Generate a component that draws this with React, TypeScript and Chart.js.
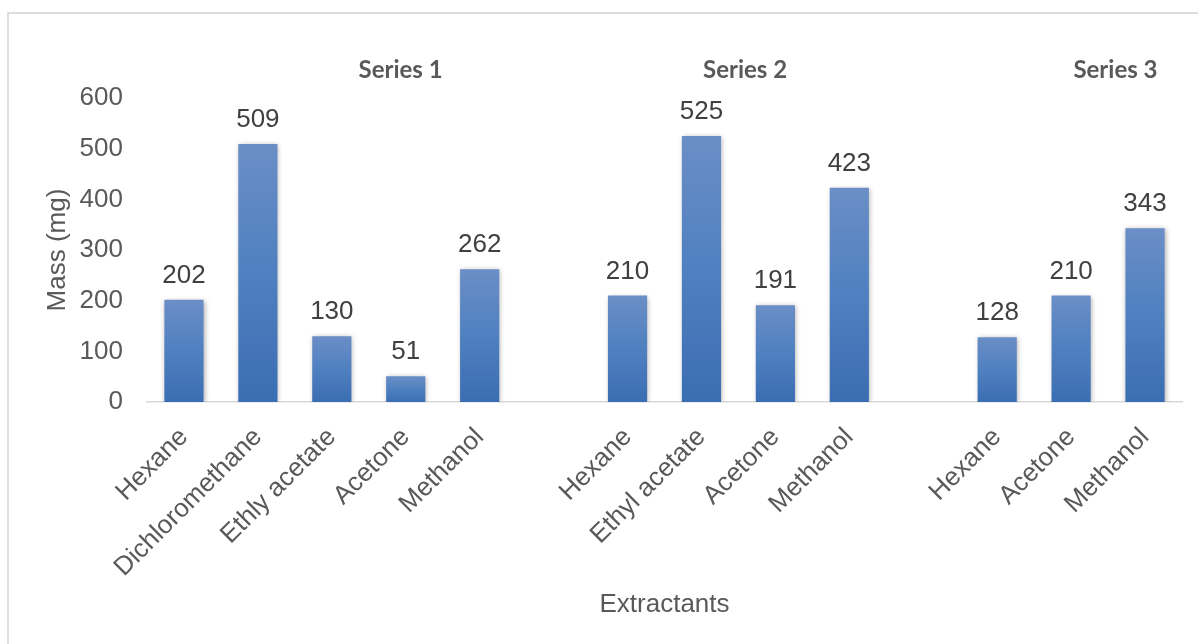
import React, { useEffect, useRef } from "react";
import { Chart, registerables } from "chart.js";

Chart.register(...registerables);

// Categories (empty strings are the gaps between the three series)
const categories: string[] = [
  "Hexane", "Dichloromethane", "Ethly acetate", "Acetone", "Methanol",
  "",
  "Hexane", "Ethyl acetate", "Acetone", "Methanol",
  "",
  "Hexane", "Acetone", "Methanol",
];

// Mass values (mg); null = gap slot
const massValues: (number | null)[] = [
  202, 509, 130, 51, 262,
  null,
  210, 525, 191, 423,
  null,
  128, 210, 343,
];

const seriesNames: string[] = ["Series 1", "Series 2", "Series 3"];
const yTicks: number[] = [0, 100, 200, 300, 400, 500, 600];

const TEXT = "#595959";
const FONT = "'Liberation Sans', Arial, sans-serif";

export default function App() {
  const ref = useRef<HTMLCanvasElement | null>(null);

  useEffect(() => {
    const canvas = ref.current;
    if (!canvas) return;

    const framePlugin = {
      id: "frame",
      beforeDraw(chart: any) {
        const c = chart.ctx;
        c.save();
        c.fillStyle = "#ffffff";
        c.fillRect(0, 0, chart.width, chart.height);
        c.strokeStyle = "#d4d4d4";
        c.lineWidth = 1.5;
        c.strokeRect(8, 13, chart.width + 20, chart.height + 20);
        c.restore();
      },
    };

    const shadowPlugin = {
      id: "barShadow",
      beforeDatasetDraw(chart: any) {
        const c = chart.ctx;
        c.save();
        c.shadowColor = "rgba(0,0,0,0.32)";
        c.shadowBlur = 5;
        c.shadowOffsetX = 1;
        c.shadowOffsetY = 1;
      },
      afterDatasetDraw(chart: any) {
        chart.ctx.restore();
      },
    };

    const labelPlugin = {
      id: "valueLabels",
      afterDatasetsDraw(chart: any) {
        const c = chart.ctx;
        const meta = chart.getDatasetMeta(0);
        c.save();
        c.fillStyle = "#404040";
        c.font = `26px ${FONT}`;
        c.textAlign = "center";
        c.textBaseline = "alphabetic";
        meta.data.forEach((el: any, i: number) => {
          const v = massValues[i];
          if (v === null || v === undefined) return;
          c.fillText(String(v), el.x, el.y - 17);
        });
        // series group titles
        const xs = chart.scales.x;
        const ys = chart.scales.y;
        const groupStarts: number[] = [];
        const groupEnds: number[] = [];
        let start = 0;
        categories.forEach((cat, i) => {
          if (cat === "") {
            groupStarts.push(start);
            groupEnds.push(i - 1);
            start = i + 1;
          }
        });
        groupStarts.push(start);
        groupEnds.push(categories.length - 1);
        c.font = `bold 24px Lato, 'Open Sans', sans-serif`;
        c.fillStyle = TEXT;
        c.textBaseline = "middle";
        const shifts = [0.93, 0.09, 0.6];
        seriesNames.forEach((name, g) => {
          const mid = (groupStarts[g] + groupEnds[g]) / 2 + shifts[g];
          const x = xs.getPixelForValue(mid);
          const y = ys.getPixelForValue(655);
          c.fillText(name, x, y);
        });
        c.restore();
      },
    };

    const chart = new Chart(canvas, {
      type: "bar",
      data: {
        labels: categories,
        datasets: [
          {
            label: "Mass",
            data: massValues as any,
            categoryPercentage: 1,
            barPercentage: 0.53,
            borderWidth: 0,
            backgroundColor: (ctx: any) => {
              const ch = ctx.chart;
              if (!ch.chartArea || ctx.type !== "data" || ctx.raw == null) return "#4a7bbd";
              const ys = ch.scales.y;
              const top = ys.getPixelForValue(ctx.raw);
              const bottom = ys.getPixelForValue(0);
              if (!isFinite(top) || !isFinite(bottom) || top === bottom) return "#4a7bbd";
              const g = ch.ctx.createLinearGradient(0, top, 0, bottom);
              g.addColorStop(0, "#6b8ec6");
              g.addColorStop(0.5, "#4f80c0");
              g.addColorStop(1, "#3b6db2");
              return g;
            },
          },
        ],
      },
      options: {
        responsive: false,
        animation: false,
        devicePixelRatio: 1,
        layout: { padding: { top: 98, right: 16, left: 0, bottom: 0 } },
        plugins: {
          legend: { display: false },
          tooltip: { enabled: false },
        },
        scales: {
          x: {
            type: "category",
            offset: true,
            grid: { display: false },
            border: { display: true, color: "#d9d9d9", width: 1.5 },
            ticks: {
              autoSkip: false,
              maxRotation: 45,
              minRotation: 45,
              padding: 12,
              color: TEXT,
              font: { family: FONT, size: 26 },
            },
            title: {
              display: true,
              text: "Extractants",
              color: TEXT,
              font: { family: FONT, size: 26 },
              padding: { top: 0, bottom: 24 },
            },
            afterFit: (scale: any) => {
              scale.height = 242;
            },
          },
          y: {
            min: 0,
            max: 600,
            afterBuildTicks: (scale: any) => {
              scale.ticks = yTicks.map((v) => ({ value: v }));
            },
            grid: { display: false },
            border: { display: false },
            ticks: {
              padding: 16,
              color: TEXT,
              font: { family: FONT, size: 26 },
            },
            title: {
              display: true,
              text: "Mass (mg)",
              color: TEXT,
              font: { family: FONT, size: 26 },
              padding: { top: 42, bottom: 0 },
            },
            afterFit: (scale: any) => {
              scale.width = 147;
            },
          },
        },
      },
      plugins: [framePlugin, shadowPlugin, labelPlugin],
    } as any);

    return () => chart.destroy();
  }, []);

  return (
    <div style={{ position: "absolute", left: 0, top: 0, width: 1198, height: 644 }}>
      <canvas ref={ref} width={1198} height={644} style={{ display: "block" }} />
    </div>
  );
}
